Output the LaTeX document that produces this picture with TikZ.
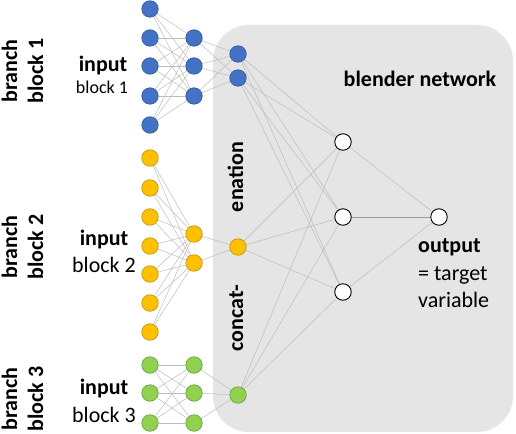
\documentclass[tikz,border=0pt]{standalone}
\usepackage{fontspec}
\setmainfont{Carlito}
\definecolor{nblue}{HTML}{4472C4}
\definecolor{nblueD}{HTML}{2F5597}
\definecolor{nyel}{HTML}{FFC000}
\definecolor{nyelD}{HTML}{BF9000}
\definecolor{ngrn}{HTML}{92D050}
\definecolor{ngrnD}{HTML}{5E9E3A}
\definecolor{egray}{HTML}{BDBDBD}
\definecolor{boxgray}{HTML}{E5E5E5}
\pgfdeclarelayer{bg}
\pgfdeclarelayer{edges}
\pgfsetlayers{bg,edges,main}
\begin{document}
\begin{tikzpicture}[x=1bp,y=-1bp,
  neuron/.style={circle, minimum size=16.5bp, inner sep=0pt, line width=0.6bp},
  bluen/.style={neuron, fill=nblue, draw=nblueD},
  yeln/.style={neuron, fill=nyel, draw=nyelD},
  grnn/.style={neuron, fill=ngrn, draw=ngrnD},
  whiten/.style={neuron, fill=white, draw=black, line width=0.9bp},
  edge/.style={draw=egray, line width=0.5bp},
  big/.style={font=\fontsize{22bp}{27bp}\selectfont, inner sep=0pt},
  bigb/.style={font=\fontsize{22bp}{27bp}\selectfont\bfseries, inner sep=0pt},
  small/.style={font=\fontsize{18bp}{22bp}\selectfont, inner sep=0pt}]
\useasboundingbox (0,0) rectangle (516,434);
% blender box
\begin{pgfonlayer}{bg}
\path[fill=boxgray, rounded corners=36bp] (213,25) rectangle (513,432);
\end{pgfonlayer}
% blue branch
\foreach \i/\y in {1/9,2/38,3/66,4/96,5/125} \node[bluen] (bi\i) at (150,\y) {};
\foreach \i/\y in {1/38,2/66,3/96} \node[bluen] (bh\i) at (194,\y) {};
\foreach \i/\y in {1/54,2/78} \node[bluen] (bc\i) at (238,\y) {};
% yellow branch
\foreach \i/\y in {1/158,2/188,3/217,4/246,5/274,6/303,7/332} \node[yeln] (yi\i) at (150,\y) {};
\foreach \i/\y in {1/234,2/263} \node[yeln] (yh\i) at (194,\y) {};
\node[yeln] (yc1) at (238,247) {};
% green branch
\foreach \i/\y in {1/365,2/393,3/423} \node[grnn] (gi\i) at (150,\y) {};
\foreach \i/\y in {1/365,2/393,3/423} \node[grnn] (gh\i) at (194,\y) {};
\node[grnn] (gc1) at (238,395) {};
% blender
\foreach \i/\y in {1/142,2/217,3/292} \node[whiten] (w\i) at (343,\y) {};
\node[whiten] (out) at (439,217) {};
% edges
\begin{pgfonlayer}{edges}
\foreach \a in {1,...,5} \foreach \b in {1,2,3} \draw[edge] (bi\a) -- (bh\b);
\foreach \a in {1,2,3} \foreach \b in {1,2} \draw[edge] (bh\a) -- (bc\b);
\foreach \a in {1,...,7} \foreach \b in {1,2} \draw[edge] (yi\a) -- (yh\b);
\foreach \a in {1,2} \draw[edge] (yh\a) -- (yc1);
\foreach \a in {1,2,3} \foreach \b in {1,2,3} \draw[edge] (gi\a) -- (gh\b);
\foreach \a in {1,2,3} \draw[edge] (gh\a) -- (gc1);
\foreach \c in {bc1,bc2,yc1,gc1} \foreach \b in {1,2,3} \draw[edge] (\c) -- (w\b);
\foreach \b in {1,3} \draw[edge] (w\b) -- (out);
\draw[edge, draw=gray!80] (w2) -- (out);
\end{pgfonlayer}
% left labels
\node[bigb, rotate=90, anchor=base] (br1) at (17,71) {branch};
\node[bigb, rotate=90, anchor=base] (bk1) at (43,71) {block 1};
\node[bigb, rotate=90, anchor=base] (br2) at (17,247) {branch};
\node[bigb, rotate=90, anchor=base] (bk2) at (43,247) {block 2};
\node[bigb, rotate=90, anchor=base] (br3) at (17,399) {branch};
\node[bigb, rotate=90, anchor=base] (bk3) at (43,399) {block 3};
\node[bigb, anchor=base] (in1) at (103,72) {input};
\node[small, anchor=base] (ib1) at (102,94) {block 1};
\node[bigb, anchor=base] (in2) at (104,246) {input};
\node[big, anchor=base] (ib2) at (104,272) {block 2};
\node[bigb, anchor=base] (in3) at (104,394) {input};
\node[big, anchor=base] (ib3) at (104,422) {block 3};
% box labels
\node[bigb, rotate=90, anchor=base] (en) at (243,177) {enation};
\node[bigb, rotate=90, anchor=base] (cc) at (243,318) {concat-};
\node[bigb, anchor=base] (bn) at (420,87) {blender network};
\node[bigb, anchor=base west] (o1) at (418,253) {output};
\node[big, anchor=base west] (o2) at (418,280) {= target};
\node[big, anchor=base west] (o3) at (418,307) {variable};
\end{tikzpicture}
\end{document}
